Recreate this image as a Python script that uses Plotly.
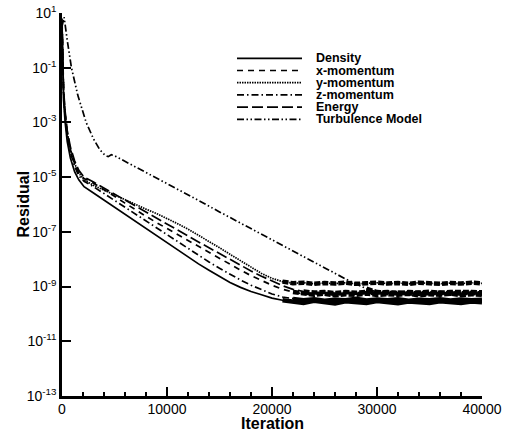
import plotly.graph_objects as go

# ---------------- data (log10 of residual) ----------------
base_iter = [0, 50, 150, 300, 500, 800, 1200, 1600, 2100, 3000, 4000, 5000, 6000, 7000,
             8000, 9000, 10000, 11000, 12000, 13000, 14000, 15000, 16000, 17000, 18000,
             19000, 20000, 21000, 22000, 23000, 24000, 25000, 26000, 27000, 28000, 29000,
             30000, 31000, 32000, 33000, 34000, 35000, 36000, 37000, 38000, 39000, 40000]

density_exp = [0.7, -1.0, -2.2, -3.0, -3.7, -4.3, -4.8, -5.1, -5.35, -5.58, -5.84, -6.1, -6.36, -6.62,
               -6.88, -7.14, -7.42, -7.68, -7.93, -8.17, -8.4, -8.63, -8.85, -9.03, -9.18,
               -9.3, -9.42, -9.5, -9.55, -9.6, -9.52, -9.58, -9.62, -9.54, -9.57, -9.6,
               -9.53, -9.58, -9.61, -9.55, -9.57, -9.6, -9.54, -9.58, -9.6, -9.55, -9.57]

xmom_exp = [0.5, -0.8, -1.9, -2.7, -3.4, -4.0, -4.5, -4.85, -5.05, -5.22, -5.45, -5.7, -5.95, -6.2,
            -6.43, -6.66, -6.88, -7.1, -7.33, -7.55, -7.77, -7.98, -8.2, -8.4, -8.6,
            -8.78, -8.95, -9.1, -9.2, -9.27, -9.3, -9.26, -9.32, -9.28, -9.3, -9.25,
            -9.31, -9.28, -9.3, -9.26, -9.32, -9.28, -9.3, -9.26, -9.31, -9.28, -9.3]

ymom_exp = [0.6, -0.8, -1.9, -2.7, -3.4, -4.0, -4.5, -4.85, -5.1, -5.3, -5.48, -5.65, -5.82, -6.0,
            -6.17, -6.33, -6.5, -6.7, -6.9, -7.12, -7.35, -7.58, -7.82, -8.06, -8.3,
            -8.52, -8.7, -8.82, -8.88, -8.86, -8.9, -8.87, -8.89, -8.86, -8.9, -8.88,
            -8.86, -8.89, -8.87, -8.9, -8.86, -8.88, -8.9, -8.87, -8.89, -8.86, -8.88]

zmom_exp = [0.6, -0.9, -2.0, -2.8, -3.5, -4.1, -4.6, -4.95, -5.15, -5.35, -5.6, -5.87, -6.13, -6.38,
            -6.63, -6.87, -7.12, -7.37, -7.62, -7.86, -8.1, -8.33, -8.55, -8.76, -8.95,
            -9.12, -9.27, -9.38, -9.45, -9.5, -9.46, -9.52, -9.48, -9.5, -9.45, -9.51,
            -9.47, -9.5, -9.46, -9.52, -9.48, -9.5, -9.46, -9.51, -9.47, -9.5, -9.48]

energy_exp = [0.8, -0.7, -1.8, -2.6, -3.3, -3.9, -4.4, -4.75, -5.0, -5.18, -5.4, -5.62, -5.85, -6.07,
              -6.3, -6.5, -6.72, -6.93, -7.15, -7.37, -7.58, -7.8, -8.02, -8.23, -8.43,
              -8.62, -8.8, -8.97, -9.1, -9.18, -9.22, -9.2, -9.24, -9.2, -9.23, -9.19,
              -9.22, -9.2, -9.24, -9.2, -9.22, -9.19, -9.23, -9.2, -9.22, -9.2, -9.21]

turb_iter = [0, 200, 500, 900, 1500, 2300, 3000, 3600, 4100, 4400, 4700, 5000, 5500,
             7000, 9000, 11000, 13000, 15000, 17000, 19000, 21000, 23000, 25000, 27000,
             29000, 30000, 31000, 32000, 33000, 34000, 35000, 36000, 37000, 38000, 39000, 40000]
turb_exp = [0.5, 0.85, 0.0, -1.0, -2.0, -3.0, -3.6, -4.0, -4.2, -4.25, -4.18, -4.22, -4.32,
            -4.62, -5.02, -5.43, -5.85, -6.27, -6.68, -7.08, -7.48, -7.9, -8.32, -8.72,
            -9.08, -9.2, -9.24, -9.22, -9.26, -9.23, -9.25, -9.22, -9.26, -9.24, -9.23, -9.25]

series_names = ["Density", "x-momentum", "y-momentum", "z-momentum", "Energy", "Turbulence Model"]

ytick_vals = [1e1, 1e-1, 1e-3, 1e-5, 1e-7, 1e-9, 1e-11, 1e-13]
ytick_text = ["10<sup>1</sup>", "10<sup>-1</sup>", "10<sup>-3</sup>", "10<sup>-5</sup>",
              "10<sup>-7</sup>", "10<sup>-9</sup>", "10<sup>-11</sup>", "10<sup>-13</sup>"]
xtick_vals = [0, 10000, 20000, 30000, 40000]
xtick_text = ["0", "10000", "20000", "30000", "40000"]
x_title = "Iteration"
y_title = "Residual"

# ---------------- styling ----------------
FONT = "Liberation Sans"
W, H = 508, 439
ML, MR, MT, MB = 62, 26, 13, 43
PW, PH = W - ML - MR, H - MT - MB

dashes = {
    "Density": "solid",
    "x-momentum": "6px,5px",
    "y-momentum": "1.5px,1px",
    "z-momentum": "7px,3px,1.5px,3px",
    "Energy": "11px,4px",
    "Turbulence Model": "7px,2.5px,1.5px,2.5px,1.5px,2.5px",
}
# where the noisy plateau starts (drawn thicker)
plateau_from = {"Density": 21000, "x-momentum": 22000, "y-momentum": 21000,
                "z-momentum": 22000, "Energy": 23000, "Turbulence Model": 29000}

data = {
    "Density": (base_iter, density_exp),
    "x-momentum": (base_iter, xmom_exp),
    "y-momentum": (base_iter, ymom_exp),
    "z-momentum": (base_iter, zmom_exp),
    "Energy": (base_iter, energy_exp),
    "Turbulence Model": (turb_iter, turb_exp),
}

fig = go.Figure()
for name in series_names:
    it, ex = data[name]
    res = [10 ** e for e in ex]
    fig.add_trace(go.Scatter(x=it, y=res, mode="lines", name=name, showlegend=False,
                             line=dict(color="black", width=1.7, dash=dashes[name])))
    px_ = [i for i in it if i >= plateau_from[name]]
    py_ = [r for i, r in zip(it, res) if i >= plateau_from[name]]
    fig.add_trace(go.Scatter(x=px_, y=py_, mode="lines", showlegend=False, hoverinfo="skip",
                             line=dict(color="black", width=4.5,
                                       dash="solid" if name in ("Density", "z-momentum") else "6px,2px")))

# ---------------- manual legend ----------------
def pxx(p):
    return (p - ML) / PW

def pxy(p):
    return (H - MB - p) / PH

leg_x0, leg_x1, leg_tx = 237, 302, 315
leg_y0, leg_dy = 58.3, 12.2
for k, name in enumerate(series_names):
    yy = leg_y0 + k * leg_dy
    fig.add_shape(type="line", xref="paper", yref="paper",
                  x0=pxx(leg_x0), x1=pxx(leg_x1), y0=pxy(yy), y1=pxy(yy),
                  line=dict(color="black", width=1.7, dash=dashes[name]))
    fig.add_annotation(xref="paper", yref="paper", x=pxx(leg_tx), y=pxy(yy),
                       text="<b>%s</b>" % name, showarrow=False, xanchor="left", yanchor="middle",
                       borderpad=0, font=dict(family=FONT, size=12.5, color="black"))

# axis titles
fig.add_annotation(xref="paper", yref="paper", x=pxx(272), y=pxy(423),
                   text="<b>%s</b>" % x_title, showarrow=False, xanchor="center", yanchor="middle",
                   borderpad=0, font=dict(family=FONT, size=16, color="black"))
fig.add_annotation(xref="paper", yref="paper", x=pxx(23), y=pxy(204.5),
                   text="<b>%s</b>" % y_title, showarrow=False, xanchor="center", yanchor="middle",
                   textangle=-90, borderpad=0, font=dict(family=FONT, size=16, color="black"))

fig.update_layout(
    width=W, height=H,
    margin=dict(l=ML, r=MR, t=MT, b=MB, autoexpand=False),
    paper_bgcolor="white", plot_bgcolor="white",
    font=dict(family=FONT, size=14, color="black"),
    showlegend=False,
)
fig.update_xaxes(range=[0, 40000], showgrid=False, zeroline=False, automargin=False,
                 showline=True, linecolor="black", linewidth=2.5, mirror=False,
                 ticks="inside", ticklen=9, tickwidth=2, tickcolor="black",
                 tickvals=xtick_vals, ticktext=xtick_text, ticklabelstandoff=-2,
                 minor=dict(ticks="inside", ticklen=4, tickwidth=1.5, tickcolor="black", dtick=2000),
                 tickfont=dict(family=FONT, size=14))
fig.update_yaxes(type="log", range=[-13, 1], showgrid=False, zeroline=False, automargin=False,
                 showline=True, linecolor="black", linewidth=2.5, mirror=False,
                 ticks="inside", ticklen=9, tickwidth=2, tickcolor="black",
                 tickvals=ytick_vals, ticktext=ytick_text,
                 tickfont=dict(family=FONT, size=14))

fig.write_html("out.html")
